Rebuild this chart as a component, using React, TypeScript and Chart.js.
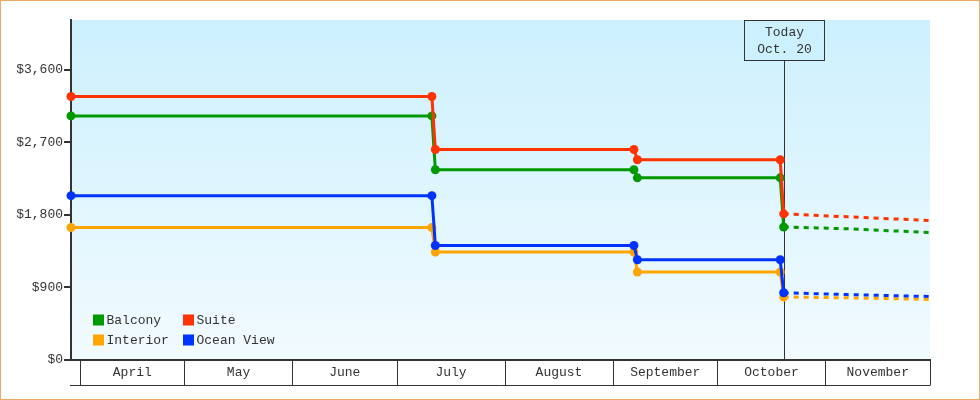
import React, { useEffect, useRef } from "react";
import { Chart, registerables } from "chart.js";

Chart.register(...registerables);

// Days counted from April 1
const DAYS = [-2.6, 101, 102, 159, 160, 201, 202];
const FORECAST_DAYS = [202, 220, 244];

const BALCONY = [3030, 3030, 2361, 2361, 2261, 2261, 1651];
const SUITE = [3270, 3270, 2612, 2612, 2485, 2485, 1814];
const INTERIOR = [1645, 1645, 1340, 1340, 1092, 1092, 782];
const OCEAN_VIEW = [2040, 2040, 1421, 1421, 1244, 1244, 834];

const BALCONY_FORECAST = [1651, 1629, 1582];
const SUITE_FORECAST = [1814, 1778, 1731];
const INTERIOR_FORECAST = [782, 772, 752];
const OCEAN_VIEW_FORECAST = [834, 812, 788];

const MONTHS = ["April", "May", "June", "July", "August", "September", "October", "November"];
const MONTH_STARTS = [0, 30, 61, 91, 122, 153, 183, 214, 244];
const Y_TICKS = [0, 900, 1800, 2700, 3600];

const TODAY_DAY = 202;
const TODAY_LABEL = ["Today", "Oct. 20"];

const FONT = '"Liberation Mono", "DejaVu Sans Mono", monospace';
const INK = "#333333";

const SERIES = [
  { label: "Balcony", color: "#009900", data: BALCONY, forecast: BALCONY_FORECAST, order: 2 },
  { label: "Suite", color: "#ff3300", data: SUITE, forecast: SUITE_FORECAST, order: 1 },
  { label: "Interior", color: "#ffa500", data: INTERIOR, forecast: INTERIOR_FORECAST, order: 2 },
  { label: "Ocean View", color: "#0033ff", data: OCEAN_VIEW, forecast: OCEAN_VIEW_FORECAST, order: 1 },
];

const bgPlugin = {
  id: "bgPlugin",
  beforeDraw(chart: any) {
    const { ctx, chartArea: a } = chart;
    const g = ctx.createLinearGradient(0, a.top, 0, a.bottom);
    g.addColorStop(0, "#ccf0fd");
    g.addColorStop(1, "#f2fbff");
    ctx.save();
    ctx.fillStyle = g;
    ctx.fillRect(a.left, a.top, a.right - a.left, a.bottom - a.top);
    ctx.restore();
  },
};

const todayLinePlugin = {
  id: "todayLine",
  beforeDatasetsDraw(chart: any) {
    const { ctx, chartArea: a, scales } = chart;
    const x = Math.round(scales.x.getPixelForValue(TODAY_DAY)) + 0.5;
    ctx.save();
    ctx.strokeStyle = INK;
    ctx.lineWidth = 1;
    ctx.beginPath();
    ctx.moveTo(x, a.top + 40);
    ctx.lineTo(x, a.bottom);
    ctx.stroke();
    ctx.restore();
  },
  afterDraw(chart: any) {
    const { ctx, chartArea: a, scales } = chart;
    const x = Math.round(scales.x.getPixelForValue(TODAY_DAY)) + 0.5;
    const w = 80;
    const h = 40;
    const top = a.top + 0.5;
    ctx.save();
    ctx.fillStyle = "#ccf0fd";
    ctx.fillRect(x - w / 2, top, w, h);
    ctx.strokeStyle = INK;
    ctx.lineWidth = 1;
    ctx.strokeRect(x - w / 2, top, w, h);
    ctx.fillStyle = INK;
    ctx.font = `13px ${FONT}`;
    ctx.textAlign = "center";
    ctx.textBaseline = "middle";
    ctx.fillText(TODAY_LABEL[0], x, top + 12);
    ctx.fillText(TODAY_LABEL[1], x, top + 29);
    ctx.restore();
  },
};

const monthCellsPlugin = {
  id: "monthCells",
  afterDraw(chart: any) {
    const { ctx, chartArea: a, scales } = chart;
    const xs = scales.x;
    ctx.save();
    ctx.strokeStyle = INK;
    ctx.lineWidth = 1;
    const yb = a.bottom + 25.5;
    ctx.beginPath();
    ctx.moveTo(a.left - 1, yb);
    ctx.lineTo(xs.getPixelForValue(MONTH_STARTS[MONTH_STARTS.length - 1]) + 0.5, yb);
    ctx.stroke();
    ctx.fillStyle = INK;
    ctx.font = `13px ${FONT}`;
    ctx.textAlign = "center";
    ctx.textBaseline = "middle";
    for (let i = 0; i < MONTHS.length; i++) {
      const x0 = xs.getPixelForValue(MONTH_STARTS[i]);
      const x1 = xs.getPixelForValue(MONTH_STARTS[i + 1]);
      ctx.fillText(MONTHS[i], (x0 + x1) / 2, a.bottom + 13);
    }
    ctx.restore();
  },
};

const legendPlugin = {
  id: "cornerLegend",
  afterDatasetsDraw(chart: any) {
    const { ctx, chartArea: a } = chart;
    const items = chart.data.datasets.filter((d: any) => d.inLegend);
    ctx.save();
    ctx.font = `13px ${FONT}`;
    ctx.textBaseline = "middle";
    ctx.textAlign = "left";
    items.forEach((d: any, i: number) => {
      const col = i % 2;
      const row = Math.floor(i / 2);
      const x = a.left + 22 + col * 90;
      const cy = a.bottom - 40 + row * 20;
      ctx.fillStyle = d.borderColor;
      ctx.fillRect(x, cy - 5.5, 11, 11);
      ctx.fillStyle = INK;
      ctx.fillText(d.label, x + 13.5, cy + 0.5);
    });
    ctx.restore();
  },
};

export default function App() {
  const ref = useRef<HTMLCanvasElement | null>(null);

  useEffect(() => {
    if (!ref.current) return;
    Chart.defaults.font.family = FONT;
    const datasets: any[] = [];
    SERIES.forEach((s) => {
      datasets.push({
        label: s.label,
        inLegend: true,
        data: DAYS.map((d, i) => ({ x: d, y: s.data[i] })),
        borderColor: s.color,
        backgroundColor: s.color,
        borderWidth: 3,
        pointRadius: 4.5,
        pointBorderWidth: 0,
        pointBackgroundColor: s.color,
        tension: 0,
        clip: false,
        order: s.order,
      });
    });
    SERIES.forEach((s) => {
      datasets.push({
        label: s.label + " forecast",
        inLegend: false,
        data: FORECAST_DAYS.map((d, i) => ({ x: d, y: s.forecast[i] })),
        borderColor: s.color,
        backgroundColor: s.color,
        borderWidth: 3,
        borderDash: [5, 5],
        pointRadius: 0,
        tension: 0,
        order: s.order + 2,
      });
    });

    const chart = new Chart(ref.current, {
      type: "line",
      data: { datasets },
      options: {
        animation: false,
        responsive: false,
        events: [],
        layout: { padding: { top: 19, right: 49, bottom: 14, left: 0 } },
        plugins: { legend: { display: false }, tooltip: { enabled: false } },
        scales: {
          x: {
            type: "linear",
            min: -2.6,
            max: 244,
            afterBuildTicks: (scale: any) => {
              scale.ticks = MONTH_STARTS.map((v) => ({ value: v }));
            },
            afterFit: (scale: any) => {
              scale.height = 25;
            },
            ticks: { display: false },
            grid: {
              drawOnChartArea: false,
              drawTicks: true,
              tickLength: 25,
              color: INK,
              lineWidth: 1,
            },
            border: { display: true, color: INK, width: 2 },
          },
          y: {
            min: 0,
            max: 4220,
            afterBuildTicks: (scale: any) => {
              scale.ticks = Y_TICKS.map((v) => ({ value: v }));
            },
            afterFit: (scale: any) => {
              scale.width = 70;
            },
            ticks: {
              color: INK,
              padding: 1,
              font: { size: 13, family: FONT },
              callback: (v: any) => "$" + Number(v).toLocaleString("en-US"),
            },
            grid: {
              drawOnChartArea: false,
              drawTicks: true,
              tickLength: 7,
              color: INK,
              lineWidth: 2,
            },
            border: { display: true, color: INK, width: 2 },
          },
        },
      } as any,
      plugins: [bgPlugin, todayLinePlugin, monthCellsPlugin, legendPlugin],
    });
    return () => chart.destroy();
  }, []);

  return (
    <div
      style={{
        position: "absolute",
        left: 0,
        top: 0,
        width: 980,
        height: 400,
        boxSizing: "border-box",
        border: "1px solid #e9aa64",
        background: "#ffffff",
      }}
    >
      <canvas ref={ref} width={978} height={398} style={{ display: "block", width: 978, height: 398 }} />
    </div>
  );
}
